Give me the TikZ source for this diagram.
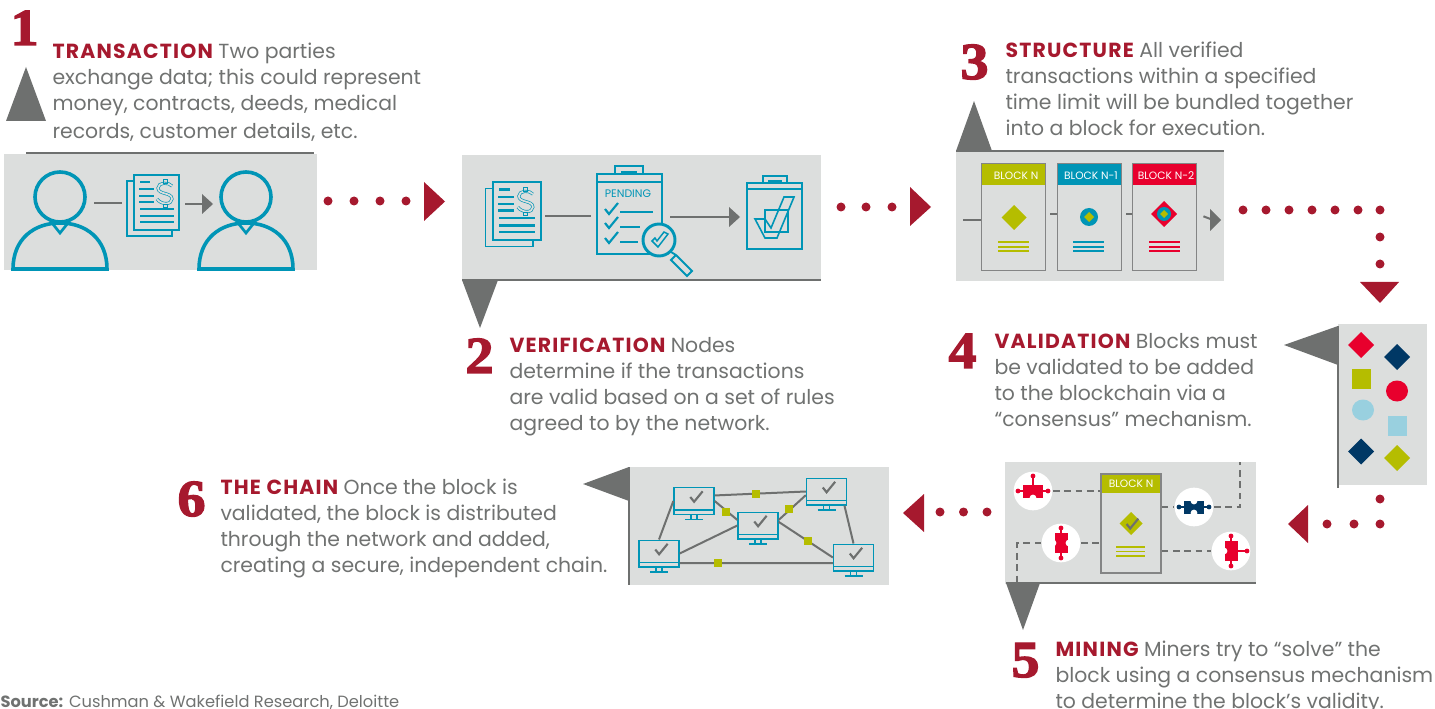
\documentclass[tikz,border=0pt]{standalone}
\usepackage{fontspec}
\setmainfont{Poppins}
\newfontfamily\numfont{Liberation Serif Bold}[FakeBold=2.5,FakeStretch=1.08]
\definecolor{panelgray}{HTML}{DCDEDD}
\definecolor{markgray}{HTML}{6E706F}
\definecolor{inkgray}{HTML}{707271}
\definecolor{brandred}{HTML}{A6192E}
\definecolor{iconteal}{HTML}{0095B6}
\definecolor{hotred}{HTML}{E8002D}
\definecolor{leafolive}{HTML}{B5BD00}
\definecolor{deepnavy}{HTML}{003865}
\definecolor{paleblue}{HTML}{99D0DF}
\newcommand\leadword[1]{\textcolor{brandred}{\bfseries\addfontfeature{LetterSpace=6}#1}}
\tikzset{every picture/.style={line width=0.75pt},
  every pic/.style={yscale=-1},
  stepnum/.style={font=\numfont\fontsize{39}{39}\selectfont,text=brandred,inner sep=0pt,anchor=base west},
  steptext/.style={font=\fontsize{15.3}{19.5}\selectfont,text=inkgray,inner sep=0pt,anchor=north west,align=left},
  rule/.style={draw=markgray,line width=1.9pt},
  pointer/.style={fill=markgray},
  redmark/.style={fill=brandred},
  iconline/.style={draw=iconteal,line width=1.2pt},
  iconbar/.style={draw=iconteal,line width=1.8pt},
  linkline/.style={draw=markgray,line width=1.5pt},
  dashlink/.style={draw=markgray,line width=1.5pt,dash pattern={on 5pt off 3.5pt}},
  blockbox/.style={draw=markgray!85,line width=1.1pt,minimum width=48pt,minimum height=80pt,inner sep=0pt},
  blockhead/.style={font=\fontsize{8}{9}\selectfont,text=white,inner sep=0pt},
  monitorbox/.style={draw=iconteal,line width=1pt,minimum width=30pt,minimum height=20pt,inner sep=0pt},
  whitedisc/.style={circle,fill=white,minimum size=29pt,inner sep=0pt},
  pics/person/.style={code={
    \draw [iconteal,line width=2.7pt] (0,0) circle (25);
    \draw [iconteal,line width=2.7pt] (-47,72) .. controls (-47,42) and (-26,26) .. (0,26) .. controls (26,26) and (47,42) .. (47,72) -- cycle;
    \draw [iconteal,line width=2pt] (-8,26) -- (0,36) -- (8,26);
  }},
  pics/dollar/.style={code={
    \draw [iconteal,line width=0.5pt,double=panelgray,double distance=1.3pt] (7,-7) .. controls (4,-11) and (-7,-11) .. (-7,-5) .. controls (-7,2) and (7,-1) .. (7,6) .. controls (7,12) and (-4,12) .. (-8,6);
    \draw [iconteal,line width=0.6pt] (-2,-14) rectangle (2,-10) (-2,11) rectangle (2,14);
  }},
  pics/docstack/.style={code={
    \draw [iconline,fill=panelgray] (-7,6) rectangle (38,61);
    \draw [iconline,fill=panelgray] (0,0) rectangle (45,55);
    \draw [iconbar] (6,7) -- (16,7) (5,14) -- (20,14) (5,21) -- (20,21) (5,27) -- (20,27);
    \draw [iconbar] (6,34) -- (40,34) (6,41) -- (40,41) (6,47) -- (40,47);
    \pic at (31,18) {dollar};
  }},
  pics/tick/.style={code={
    \draw [line width=1.6pt] (-6,0) -- (-2,5) -- (7,-6);
  }},
  pics/monitor/.style={code={
    \node [monitorbox] (-box) at (0,0) {};
    \draw [iconteal,line width=0.8pt] (-20,9) -- (20,9) (-3,13.5) -- (-3,18) (3,13.5) -- (3,18);
    \draw [iconteal,line width=1pt] (-9,18.5) -- (9,18.5);
    \pic [color=markgray,scale=0.95] at (2,-4) {tick};
  }},
  pics/puzzlebar/.style={code={
    \fill (-10,-6.5) rectangle (10,6.5);
    \draw [line width=0.8pt] (-15,0) -- (15,0);
    \fill (-15,0) circle (2.4) (15,0) circle (2.4);
  }},
  pics/puzzlepin/.style={code={
    \draw [line width=0.8pt] (0,0) -- (0,-9);
    \fill (0,-9) circle (2.4);
  }},
  pics/puzzlenotch/.style={code={
    \fill [white] (0,0) circle (3.4);
  }},
}

\begin{document}
\begin{tikzpicture}[x=0.75pt,y=0.75pt,yscale=-1,xscale=1]
\useasboundingbox (0,0) rectangle (1435,709);

%Shape: Panel 1
\fill [panelgray] (4,154) rectangle (317,270);
\draw [rule] (26,153) -- (314,153);
\fill [pointer] (26,67) -- (46,121) -- (6,121) -- cycle;
%Shape: People and papers
\pic at (60,197) {person};
\pic at (246,197) {person};
\pic at (134,175) {docstack};
\draw [linkline] (94,203) -- (122,203);
\draw [linkline] (185,204) -- (204,204);
\fill [pointer] (202,194) -- (213,204) -- (202,214) -- cycle;

%Dots 1 to 2
\fill [redmark] (328,201) circle (4.5) (354,201) circle (4.5) (380,201) circle (4.5) (406,201) circle (4.5);
\fill [redmark] (424,182) -- (445,201.5) -- (424,221) -- cycle;

%Shape: Panel 2
\fill [panelgray] (462,155) rectangle (821,280);
\draw [rule] (462,280) -- (821,280);
\fill [pointer] (462,280) -- (498,280) -- (480,328) -- cycle;
\pic [scale=1.06] at (493,182) {docstack};
\draw [linkline] (545,216) -- (591,216);
%Shape: Pending clipboard
\draw [iconline,line width=1.7pt] (597,174) rectangle (662,254) (597,182) -- (662,182);
\draw [iconline,line width=1.7pt] (615,174) -- (615,166) -- (643,166) -- (643,174);
\draw [iconbar] (621,172) -- (637,172);
\node [font=\fontsize{8.2}{9}\selectfont,text=iconteal,inner sep=0pt] (pendinglabel) at (628,194) {PENDING};
\pic [color=iconteal] at (611,209) {tick};
\pic [color=iconteal] at (611,223) {tick};
\pic [color=iconteal] at (611,238) {tick};
\draw [iconteal,line width=1.8pt] (620,212) -- (653,212) (620,227) -- (640,227) (620,242) -- (638,242);
%Shape: Magnifier
\draw [iconteal,line width=2.2pt,fill=panelgray] (659,240) circle (16);
\draw [iconteal,line width=1.4pt] (671,252) -- (676,255) (676,255) -- (671,260) -- (687,276) -- (692,271) -- (676,255);
\draw [iconteal,line width=1.1pt] (652,241) -- (658,247) -- (668,234) -- (664,232) -- (657,241) -- (655,238) -- cycle;
\draw [linkline] (670,217) -- (731,217);
\fill [pointer] (729,207) -- (740,217) -- (729,227) -- cycle;
%Shape: Checked clipboard
\draw [iconline,line width=1.6pt] (747,183) rectangle (802,249) (747,189) -- (802,189);
\draw [iconline,line width=1.6pt] (763,183) -- (763,176) -- (787,176) -- (787,183);
\draw [iconbar] (768,181) -- (782,181);
\draw [iconline] (765,210) rectangle (788,232);
\draw [iconline] (755,219) -- (765,219) -- (771,228) -- (784,197) -- (794,197) -- (777,238) -- (765,238) -- cycle;

%Dots 2 to 3
\fill [redmark] (841,207) circle (4.5) (866,207) circle (4.5) (892,207) circle (4.5);
\fill [redmark] (910,187) -- (931,207) -- (910,226) -- cycle;

%Shape: Panel 3
\fill [panelgray] (956,151) rectangle (1224,281);
\draw [rule] (956,151) -- (1224,151);
\fill [pointer] (956,151) -- (992,151) -- (974,101) -- cycle;
%Shape: Block headers
\fill [leafolive] (981,164) rectangle (1046,185);
\fill [iconteal] (1057,164) rectangle (1122,185);
\fill [hotred] (1132,164) rectangle (1197,185);
\node [blockbox] (blockn) at (1013.5,217) {};
\node [blockbox] (blocknone) at (1089.5,217) {};
\node [blockbox] (blockntwo) at (1164.5,217) {};
\node [blockhead] (headn) at (1016,175.5) {BLOCK N};
\node [blockhead] (headnone) at (1091,175.5) {BLOCK N-1};
\node [blockhead] (headntwo) at (1166,175.5) {BLOCK N-2};
\coordinate (chainin) at (963,220);
\coordinate (chainout) at (1213,220);
\draw [linkline] (chainin) -- (chainin -| blockn.west);
\draw [linkline,shorten <=3pt] ([yshift=-2.3pt]blockn.east) -- ([yshift=-2.3pt]blocknone.west);
\draw [linkline,shorten <=3pt] ([yshift=-2.3pt]blocknone.east) -- ([yshift=-2.3pt]blockntwo.west);
\draw [linkline,shorten <=5pt] ([yshift=-2.3pt]blockntwo.east) -- (chainout);
\fill [pointer] (1210,209) -- (1221,220) -- (1210,231) -- cycle;
%Shape: Block marks
\fill [leafolive] (1014,205) -- (1026.5,217.5) -- (1014,230) -- (1001.5,217.5) -- cycle;
\fill [iconteal] (1089,217) circle (9);
\fill [leafolive] (1089,212) -- (1094,217) -- (1089,222) -- (1084,217) -- cycle;
\fill [hotred] (1164,201) -- (1177,214) -- (1164,227) -- (1151,214) -- cycle;
\fill [iconteal] (1164,214) circle (7);
\fill [leafolive] (1164,210) -- (1168,214) -- (1164,218) -- (1160,214) -- cycle;
\draw [leafolive,line width=1.5pt] (998,242) -- (1029,242) (998,247) -- (1029,247) (998,251.5) -- (1029,251.5);
\draw [iconteal,line width=1.5pt] (1073,242) -- (1104,242) (1073,247) -- (1104,247) (1073,251.5) -- (1104,251.5);
\draw [hotred,line width=1.5pt] (1149,242) -- (1180,242) (1149,247) -- (1180,247) (1149,251.5) -- (1180,251.5);

%Dots 3 to 4
\fill [redmark] (1243,210) circle (4.5) (1266,210) circle (4.5) (1289,210) circle (4.5) (1312,210) circle (4.5) (1335,210) circle (4.5) (1358,210) circle (4.5) (1380,210) circle (4.5) (1380,237) circle (4.5) (1380,264) circle (4.5);
\fill [redmark] (1360,282) -- (1399,282) -- (1380,303) -- cycle;

%Shape: Panel 4
\fill [panelgray] (1338,324) rectangle (1427,485);
\draw [rule] (1338,326) -- (1338,488);
\fill [pointer] (1338,326) -- (1338,365) -- (1284,345) -- cycle;
\fill [hotred] (1361,332) -- (1374,345) -- (1361,358) -- (1348,345) -- cycle;
\fill [deepnavy] (1397,344) -- (1410,357) -- (1397,370) -- (1384,357) -- cycle;
\fill [leafolive] (1352,369) rectangle (1371,389);
\fill [hotred] (1397,391) ellipse (11 and 10.5);
\fill [paleblue] (1363,410) ellipse (11 and 10.5);
\fill [paleblue] (1388,416) rectangle (1407,436);
\fill [deepnavy] (1361,438.5) -- (1374,451.5) -- (1361,464.5) -- (1348,451.5) -- cycle;
\fill [leafolive] (1397,445) -- (1410,458) -- (1397,471) -- (1384,458) -- cycle;

%Dots 4 to 5
\fill [redmark] (1380,499) circle (4.5) (1380,524) circle (4.5) (1354,524) circle (4.5) (1327,524) circle (4.5);
\fill [redmark] (1308,505) -- (1308,543) -- (1288,524) -- cycle;

%Shape: Panel 5
\fill [panelgray] (1005,462) rectangle (1256,584);
\draw [rule] (1006,583) -- (1256,583);
\fill [leafolive] (1101,474) rectangle (1161,493);
\node [blockbox,minimum width=45pt,minimum height=74pt] (blockmine) at (1131,523.5) {};
\node [blockhead] (headmine) at (1131,483.5) {BLOCK N};
\fill [leafolive] (1131,512) -- (1142.5,523.5) -- (1131,535) -- (1119.5,523.5) -- cycle;
\pic [color=markgray,scale=0.9] at (1132,524) {tick};
\draw [leafolive,line width=1.4pt] (1116,547) -- (1145,547) (1116,551.5) -- (1145,551.5) (1116,556) -- (1145,556);
\node [whitedisc] (piecea) at (1033,491) {};
\node [whitedisc] (pieceb) at (1194,507) {};
\node [whitedisc] (piecec) at (1061,543) {};
\node [whitedisc] (pieced) at (1231,551) {};
\coordinate (minein) at (1240,462);
\coordinate (mineout) at (1017,583);
\draw [dashlink] (piecea) -- (piecea -| blockmine.west);
\draw [dashlink] (pieceb -| blockmine.east) -- (pieceb);
\draw [dashlink] (pieceb) -- (pieceb -| minein) -- (minein);
\draw [dashlink] (pieced -| blockmine.east) -- (pieced);
\draw [dashlink] (piecec) -- (piecec -| blockmine.west);
\draw [dashlink] (piecec) -- (piecec -| mineout) -- (mineout);
%Shape: Puzzle pieces
\pic [color=hotred] at (1033,491) {puzzlebar};
\pic [color=hotred] at (1033,485) {puzzlepin};
\pic at (1033,498) {puzzlenotch};
\pic [color=deepnavy] at (1194,507) {puzzlebar};
\pic at (1194,501) {puzzlenotch};
\pic at (1194,513) {puzzlenotch};
\pic [color=hotred,rotate=90] at (1061,543) {puzzlebar};
\pic at (1053,543) {puzzlenotch};
\pic at (1069,543) {puzzlenotch};
\pic [color=hotred,rotate=90] at (1231,551) {puzzlebar};
\pic [color=hotred,rotate=-90] at (1238,551) {puzzlepin};
\pic at (1224,551) {puzzlenotch};
\fill [pointer] (1006,583) -- (1040,583) -- (1023,630) -- cycle;

%Dots 5 to 6
\fill [redmark] (940,512) circle (4.5) (963.5,512) circle (4.5) (987,512) circle (4.5);
\fill [redmark] (924,494) -- (924,532) -- (903,513) -- cycle;

%Shape: Panel 6
\fill [panelgray] (629,467) rectangle (889,585);
\draw [rule] (629,467) -- (629,585);
\fill [pointer] (629,467) -- (629,501) -- (583,484) -- cycle;
\pic (mone) at (694,501) {monitor};
\pic (mtwo) at (826.5,491.5) {monitor};
\pic (mthree) at (758,525.5) {monitor};
\pic (mfour) at (659,553.5) {monitor};
\pic (mfive) at (853.5,557.5) {monitor};
\draw [linkline] (mone-box.15) -- (mtwo-box.west);
\draw [linkline] (mone-box.east) -- (mthree-box.165);
\draw [linkline] (mthree-box.15) -- (mtwo-box.190);
\draw [linkline] (mthree-box.west) -- (mfour-box.east);
\draw [linkline] (mthree-box.10) -- (mfive-box.west);
\draw [linkline] (mone-box.west) -- (mfour-box.north);
\draw [linkline] (mtwo-box.-38) -- (mfive-box.north);
\draw [linkline] (mfour-box.-25) -- (mfive-box.195);
\fill [leafolive] (752,490) rectangle (760,498);
\fill [leafolive] (722,508) rectangle (730,516);
\fill [leafolive] (785,505) rectangle (793,513);
\fill [leafolive] (804,537) rectangle (812,545);
\fill [leafolive] (714,559) rectangle (722,567);

% Text Node
\node [stepnum] (numone) at (10,45) {1};
\node [steptext] (textone) at (52,42) {\leadword{TRANSACTION} Two parties\\exchange data; this could represent\\money, contracts, deeds, medical\\[1.5pt]records, customer details, etc.};
% Text Node
\node [stepnum] (numtwo) at (465,373) {2};
\node [steptext] (texttwo) at (509,336.5) {\leadword{VERIFICATION} Nodes\\determine if the transactions\\are valid based on a set of rules\\agreed to by the network.};
% Text Node
\node [stepnum] (numthree) at (960,79) {3};
\node [steptext] (textthree) at (1005,41.5) {\leadword{STRUCTURE} All verified\\transactions within a specified\\time limit will be bundled together\\into a block for execution.};
% Text Node
\node [stepnum] (numfour) at (948,368) {4};
\node [steptext] (textfour) at (994,332.5) {\leadword{VALIDATION} Blocks must\\be validated to be added\\to the blockchain via a\\“consensus” mechanism.};
% Text Node
\node [stepnum] (numfive) at (1011,677) {5};
\node [steptext] (textfive) at (1055,640.5) {\leadword{MINING} Miners try to “solve” the\\block using a consensus mechanism\\to determine the block’s validity.};
% Text Node
\node [stepnum] (numsix) at (177,516) {6};
\node [steptext] (textsix) at (220,478.5) {\leadword{THE CHAIN} Once the block is\\validated, the block is distributed\\through the network and added,\\creating a secure, independent chain.};
% Text Node
\node [font=\fontsize{12.2}{14}\selectfont,text=inkgray,inner sep=0pt,anchor=base west] (sourcenote) at (0,707.5) {\textbf{Source:} Cushman \& Wakefield Research, Deloitte};

\end{tikzpicture}
\end{document}
